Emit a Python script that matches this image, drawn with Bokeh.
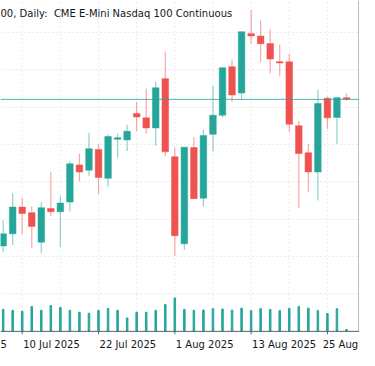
from bokeh.plotting import figure
from bokeh.models import Range1d, FixedTicker, Grid, Label, Span, ColumnDataSource
from bokeh.embed import file_html
from bokeh.resources import INLINE

dates = ["8 Jul", "9 Jul", "10 Jul", "11 Jul", "14 Jul", "15 Jul", "16 Jul", "17 Jul",
         "18 Jul", "21 Jul", "22 Jul", "23 Jul", "24 Jul", "25 Jul", "28 Jul", "29 Jul",
         "30 Jul", "31 Jul", "1 Aug", "4 Aug", "5 Aug", "6 Aug", "7 Aug", "8 Aug",
         "11 Aug", "12 Aug", "13 Aug", "14 Aug", "15 Aug", "18 Aug", "19 Aug", "20 Aug",
         "21 Aug", "22 Aug", "25 Aug", "26 Aug", "27 Aug"]
opens = [22856, 22921, 23064, 23034, 22876, 23056, 23039, 23091, 23290, 23262, 23373,
         23218, 23427, 23424, 23565, 23542, 23488, 23752, 23334, 22868, 23383, 23112,
         23454, 23556, 23816, 23675, 23993, 23980, 23940, 23843, 23843, 23500, 23355,
         23252, 23647, 23544, 23650]
highs = [22993, 23138, 23116, 23069, 23090, 23252, 23124, 23310, 23351, 23462, 23402,
         23454, 23459, 23505, 23628, 23698, 23735, 23898, 23382, 23385, 23440, 23479,
         23715, 23811, 23855, 24005, 24120, 24063, 24017, 23935, 23885, 23525, 23402,
         23693, 23658, 23653, 23672]
lows = [22822, 22861, 22919, 22844, 22817, 23017, 22851, 23040, 23201, 23232, 23134,
        23173, 23329, 23365, 23470, 23457, 23391, 23337, 22802, 22835, 23109, 23066,
        23363, 23542, 23628, 23638, 23936, 23841, 23781, 23764, 23467, 23058, 23143,
        23100, 23483, 23402, 23634]
closes = [22921, 23064, 23030, 22960, 23061, 23039, 23086, 23296, 23252, 23377, 23223,
          23442, 23436, 23470, 23547, 23488, 23703, 23360, 22911, 23385, 23109, 23448,
          23556, 23811, 23665, 24003, 23981, 23939, 23857, 23836, 23508, 23351, 23252,
          23619, 23542, 23650, 23641]
volumes = [460000, 440000, 420000, 520000, 440000, 540000, 500000, 440000, 400000,
           380000, 440000, 480000, 440000, 280000, 400000, 400000, 440000, 560000,
           700000, 460000, 440000, 446000, 474000, 466000, 446000, 486000, 434000,
           474000, 460000, 434000, 480000, 520000, 486000, 434000, 374000, 474000, 40000]

tick_idx = [-6, 2, 10, 18, 26, 34]
tick_labels = ["5", "10 Jul 2025", "22 Jul 2025", "1 Aug 2025", "13 Aug 2025", "25 Aug"]
vgrid_idx = [-2, 2, 6, 10, 14, 18, 22, 26, 30, 34, 38]
price_grid = [22400, 22600, 22800, 23000, 23200, 23400, 23600, 23800, 24000]
title_text = "00, Daily: \u00a0CME E-Mini Nasdaq 100 Continuous"

UP = "#26a69a"
DOWN = "#ef5350"
FONT = "DejaVu Sans"
TXT = "#131722"
AXC = "#5d606b"
GRID = "#d9d9d9"

# ---- geometry, expressed in pixels of the 375x366 reference picture ----
W, H = 359, 350
SX = W / 367.0          # horizontal scale: reference x 0..367 -> canvas 0..359
SY = H / 366.0          # vertical scale:   reference y 0..366 -> canvas 0..350
BAR0_X, BAR_STEP = 2.7, 9.75        # reference x of first bar, bar spacing
PX_PER_200, REF_Y_24000 = 39.05, 33.3
AXIS_Y, LABEL_BASE_Y, TICK_LEN = 346.0, 359.3, 3.0
RIGHT_X = 366.6


def price_at(ref_y):
    return 24000 - (ref_y - REF_Y_24000) * 200.0 / PX_PER_200


def index_at(ref_x):
    return (ref_x - BAR0_X) / BAR_STEP


x_lo, x_hi = index_at(0), index_at(W / SX)
y_lo, y_hi = price_at(H / SY), price_at(0)
vol_per_px = 20000.0
v_lo = -(H / SY - AXIS_Y) * vol_per_px
v_hi = AXIS_Y * vol_per_px

base = price_at(AXIS_Y)
idx = list(range(len(dates)))
up = [c >= o for o, c in zip(opens, closes)]
src = ColumnDataSource(dict(
    x=idx, o=opens, h=highs, l=lows, c=closes, v=volumes,
    top=[max(o, c) for o, c in zip(opens, closes)],
    bot=[min(o, c) for o, c in zip(opens, closes)],
    col=[UP if u else DOWN for u in up],
))

p = figure(width=W, height=H, output_backend="svg", toolbar_location=None,
           x_range=Range1d(x_lo, x_hi), y_range=Range1d(y_lo, y_hi),
           x_axis_location=None, y_axis_location=None,
           min_border=0, background_fill_color="white", border_fill_color="white")
p.outline_line_color = None
p.grid.visible = False
p.extra_y_ranges = {"vol": Range1d(v_lo, v_hi)}

# horizontal grid lines
p.add_layout(Grid(dimension=1, ticker=FixedTicker(ticks=price_grid),
                  grid_line_color=GRID, grid_line_dash="1 3"))
# vertical grid lines (stop at the time axis)
p.segment(x0=vgrid_idx, x1=vgrid_idx, y0=[base] * len(vgrid_idx),
          y1=[y_hi] * len(vgrid_idx), line_color=GRID, line_dash="1 3", line_width=1)

# volume
p.vbar(x="x", top="v", bottom=0, width=0.16, color=UP, source=src, y_range_name="vol")

# last price line
p.add_layout(Span(location=closes[-1], dimension="width", line_color=UP,
                  line_width=1, line_alpha=0.8))

# candles
p.segment(x0="x", y0="h", x1="x", y1="l", line_color="col", line_alpha=0.5,
          line_width=1.2, source=src)
p.vbar(x="x", top="top", bottom="bot", width=0.69, fill_color="col",
       line_color="col", line_width=0.5, source=src)

# time axis line, right border, tick marks
p.add_layout(Span(location=base, dimension="width", line_color=AXC, line_width=1))
rx = index_at(RIGHT_X)
p.segment(x0=[rx], x1=[rx], y0=[base], y1=[y_hi], line_color=AXC, line_width=1)
tk = [i for i in tick_idx if i >= 0]
p.segment(x0=tk, x1=tk, y0=[base] * len(tk),
          y1=[price_at(AXIS_Y + TICK_LEN)] * len(tk), line_color=AXC, line_width=1)

# tick labels, left-aligned at their tick as in the reference
lab_y = price_at(LABEL_BASE_Y)
for i, t in zip(tick_idx, tick_labels):
    if i < 0:
        kw = dict(x=x_lo, text_align="left")
    elif i == tick_idx[-1]:
        kw = dict(x=rx, text_align="right", x_offset=-1)
    else:
        kw = dict(x=i, text_align="left", x_offset=1)
    p.add_layout(Label(y=lab_y, text=t, text_font=FONT, text_font_size="10px",
                       text_color=TXT, text_baseline="alphabetic", **kw))

# title
p.add_layout(Label(x=x_lo, y=price_at(13.3), text=title_text,
                   text_font=FONT, text_font_size="10px", text_color=TXT,
                   text_baseline="alphabetic", text_align="left"))

open("out.html", "w").write(file_html(p, INLINE))
